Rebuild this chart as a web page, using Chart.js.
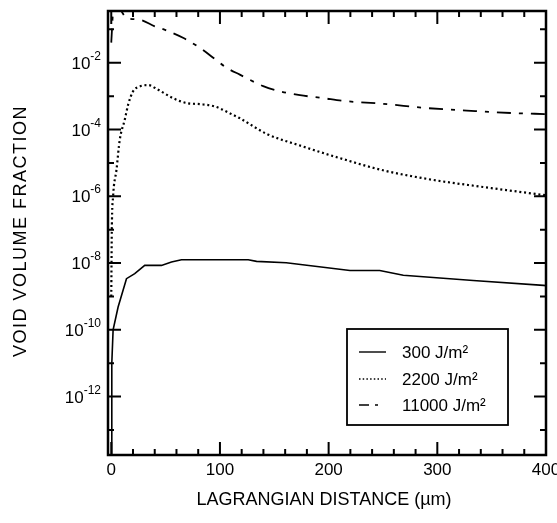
<!DOCTYPE html>
<html>
<head>
<meta charset="utf-8">
<script src="https://cdn.jsdelivr.net/npm/chart.js@4.4.1/dist/chart.umd.min.js"></script>
<style>
  html, body { margin: 0; padding: 0; background: #fff; }
  #wrap { width: 557px; height: 523px; }
</style>
</head>
<body>
<div id="wrap"><canvas id="void-chart" width="557" height="523"></canvas></div>
<script>
// Lagrangian distance (um) and void volume fraction
const seriesLabels = ["300 J/m²", "2200 J/m²", "11000 J/m²"];

const x300 = [0, 0.5, 1.7, 6.3, 14, 21.6, 30.8, 46.2, 55.4, 64.6, 126, 133.7, 161, 219.6, 247, 268.7, 333, 397.6, 400];
const y300 = [1e-14, 1e-11, 1e-10, 4.8e-10, 3.4e-9, 4.8e-9, 8.5e-9, 8.5e-9, 1.07e-8, 1.26e-8, 1.26e-8, 1.12e-8, 1.02e-8, 6.0e-9, 6.0e-9, 4.3e-9, 3.0e-9, 2.14e-9, 2.1e-9];

const x2200 = [0, 0.5, 1.7, 4.8, 7.8, 12.4, 15.5, 20, 26.2, 33.9, 43.1, 56.9, 69.2, 81.5, 95.3, 112, 118, 143, 175, 210, 250, 296, 342, 400];
const y2200 = [1e-9, 9.5e-8, 1e-6, 6.2e-6, 4.9e-5, 1.95e-4, 5.5e-4, 1.38e-3, 1.95e-3, 2.14e-3, 1.55e-3, 8.7e-4, 6.2e-4, 5.75e-4, 4.9e-4, 2.75e-4, 2.2e-4, 7.4e-5, 3.2e-5, 1.4e-5, 6.0e-6, 3.1e-6, 1.9e-6, 1.07e-6];

const x11000 = [0, 2, 6, 14, 26.2, 40, 50.8, 66, 81.5, 96.9, 106, 118.3, 139.8, 155, 173.6, 195, 213.4, 250, 290, 327, 370, 400];
const y11000 = [0.04, 0.4, 0.45, 0.22, 0.195, 0.123, 0.093, 0.056, 0.028, 0.0118, 0.0071, 0.0044, 0.002, 0.0014, 0.00107, 0.00087, 0.00072, 0.00059, 0.00044, 0.00037, 0.00031, 0.00029];

const xMajorTicks = [0, 100, 200, 300, 400];
const xMinorTicks = [20, 40, 60, 80, 120, 140, 160, 180, 220, 240, 260, 280, 320, 340, 360, 380];
const yMajorExps = [-2, -4, -6, -8, -10, -12];
const yMinorExps = [-1, -3, -5, -7, -9, -11, -13];

const xTitle = "LAGRANGIAN DISTANCE (µm)";
const yTitle = "VOID VOLUME FRACTION";

const FONT = '"Liberation Sans", Arial, Helvetica, sans-serif';

function toPoints(xs, ys) {
    return xs.map((x, i) => ({ x: x, y: ys[i] }));
}

const dashStyles = [[], [2, 2.8], [14, 8, 4, 8]];
const widths = [1.6, 2.2, 1.8];

// ticks pointing inward, labels with superscripts, frame and legend
const decorPlugin = {
    id: "decor",
    afterDraw(chart) {
        const ctx = chart.ctx;
        const area = chart.chartArea;
        const xs = chart.scales.x;
        const ys = chart.scales.y;
        ctx.save();
        ctx.strokeStyle = "#000";
        ctx.fillStyle = "#000";

        // frame
        ctx.lineWidth = 2.5;
        ctx.strokeRect(area.left, area.top, area.right - area.left, area.bottom - area.top);

        ctx.lineWidth = 2;
        ctx.beginPath();
        xMajorTicks.forEach(v => {
            const px = xs.getPixelForValue(v);
            ctx.moveTo(px, area.bottom); ctx.lineTo(px, area.bottom - 13);
            ctx.moveTo(px, area.top); ctx.lineTo(px, area.top + 13);
        });
        xMinorTicks.forEach(v => {
            const px = xs.getPixelForValue(v);
            ctx.moveTo(px, area.bottom); ctx.lineTo(px, area.bottom - 6);
            ctx.moveTo(px, area.top); ctx.lineTo(px, area.top + 6);
        });
        yMajorExps.forEach(e => {
            const py = ys.getPixelForValue(Math.pow(10, e));
            ctx.moveTo(area.left, py); ctx.lineTo(area.left + 13, py);
            ctx.moveTo(area.right, py); ctx.lineTo(area.right - 12, py);
        });
        yMinorExps.forEach(e => {
            const py = ys.getPixelForValue(Math.pow(10, e));
            ctx.moveTo(area.left, py); ctx.lineTo(area.left + 6, py);
            ctx.moveTo(area.right, py); ctx.lineTo(area.right - 6, py);
        });
        ctx.stroke();

        // x tick labels
        ctx.font = "17px " + FONT;
        ctx.textAlign = "center";
        ctx.textBaseline = "top";
        xMajorTicks.forEach(v => {
            ctx.fillText(String(v), xs.getPixelForValue(v), area.bottom + 7);
        });

        // y tick labels: 10 with exponent
        ctx.textBaseline = "alphabetic";
        ctx.textAlign = "left";
        yMajorExps.forEach(e => {
            const py = ys.getPixelForValue(Math.pow(10, e));
            const expText = String(e);
            ctx.font = "12px " + FONT;
            const ew = ctx.measureText(expText).width;
            ctx.font = "17px " + FONT;
            const bw = ctx.measureText("10").width;
            const right = area.left - 7;
            ctx.fillText("10", right - ew - bw, py + 6);
            ctx.font = "12px " + FONT;
            ctx.fillText(expText, right - ew, py - 3);
        });

        // axis titles
        ctx.font = "18px " + FONT;
        ctx.textAlign = "center";
        ctx.textBaseline = "middle";
        ctx.fillText(xTitle, 324, 500);
        ctx.save();
        ctx.translate(21, 231);
        ctx.rotate(-Math.PI / 2);
        ctx.letterSpacing = "1.5px";
        ctx.fillText(yTitle, 0, 0);
        ctx.restore();

        // legend box
        const lx = 347, ly = 329, lw = 161, lh = 96;
        ctx.fillStyle = "#fff";
        ctx.fillRect(lx, ly, lw, lh);
        ctx.fillStyle = "#000";
        ctx.lineWidth = 1.8;
        ctx.strokeRect(lx, ly, lw, lh);
        const rows = [352, 379, 405];
        const sampleDash = [[], [1.5, 2.2], [10, 6, 3, 20]];
        ctx.font = "17px " + FONT;
        ctx.textAlign = "left";
        seriesLabels.forEach((label, i) => {
            ctx.lineWidth = i === 1 ? 1.5 : 1.4;
            ctx.setLineDash(sampleDash[i]);
            ctx.beginPath();
            ctx.moveTo(359, rows[i]);
            ctx.lineTo(386, rows[i]);
            ctx.stroke();
            ctx.setLineDash([]);
            ctx.fillText(label, 402, rows[i] + 1);
        });
        ctx.restore();
    }
};

new Chart(document.getElementById("void-chart"), {
    type: "scatter",
    data: {
        datasets: [
            { label: seriesLabels[0], data: toPoints(x300, y300) },
            { label: seriesLabels[1], data: toPoints(x2200, y2200) },
            { label: seriesLabels[2], data: toPoints(x11000, y11000) }
        ].map((ds, i) => Object.assign(ds, {
            showLine: true,
            borderColor: "#000",
            backgroundColor: "#000",
            borderWidth: widths[i],
            borderDash: dashStyles[i],
            pointRadius: 0,
            cubicInterpolationMode: i === 0 ? "default" : "monotone",
            tension: i === 0 ? 0 : 0.4
        }))
    },
    options: {
        responsive: false,
        animation: false,
        layout: { padding: { top: 11, right: 11, left: 0, bottom: 0 } },
        plugins: { legend: { display: false }, tooltip: { enabled: false } },
        scales: {
            x: {
                type: "linear",
                min: -3,
                max: 400,
                grid: { display: false },
                border: { display: false },
                ticks: { display: false },
                afterFit: scale => { scale.height = 68; }
            },
            y: {
                type: "logarithmic",
                min: Math.pow(10, -13.75),
                max: Math.pow(10, -0.45),
                grid: { display: false },
                border: { display: false },
                ticks: { display: false },
                afterFit: scale => { scale.width = 108; }
            }
        }
    },
    plugins: [decorPlugin]
});
</script>
</body>
</html>
